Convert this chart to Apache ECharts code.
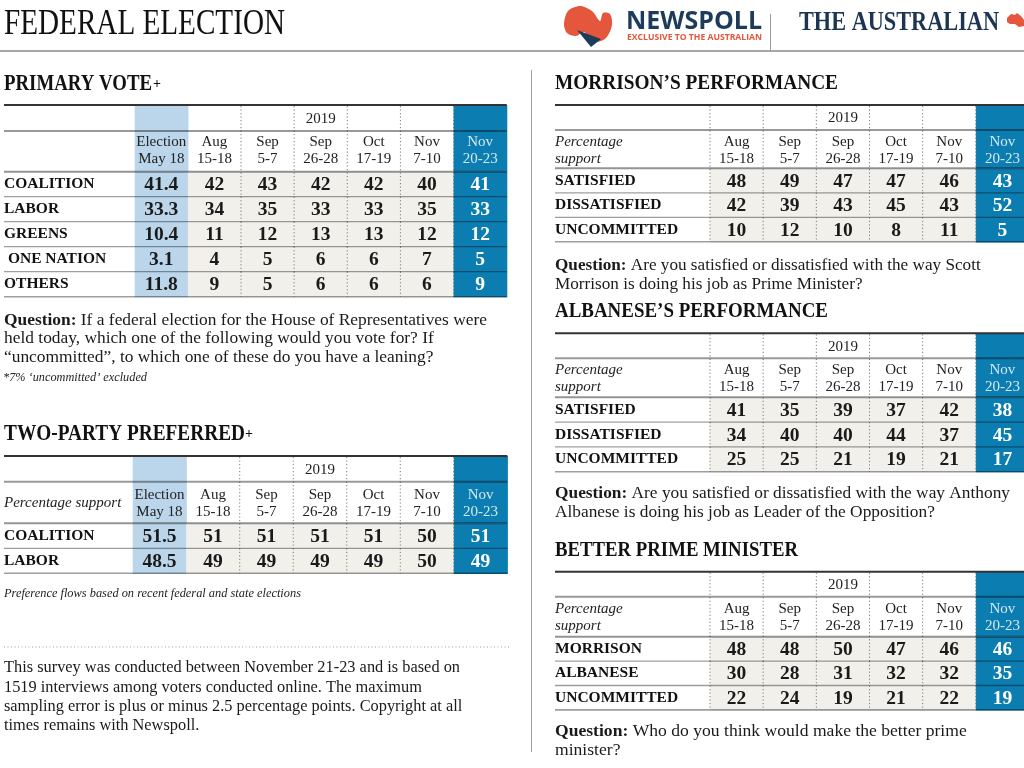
<!DOCTYPE html>
<html><head><meta charset="utf-8">
<script src="https://cdn.jsdelivr.net/npm/echarts@6/dist/echarts.min.js"></script>
<style>html,body{margin:0;padding:0;background:#fff}#c{width:1024px;height:768px}</style>
</head><body><div id="c"></div>
<script>
// ---------------- DATA ----------------
const yearLabel = '2019';
const primaryCols = ['Election\nMay 18','Aug\n15-18','Sep\n5-7','Sep\n26-28','Oct\n17-19','Nov\n7-10','Nov\n20-23'];
const primaryRows = ['COALITION','LABOR','GREENS',' ONE NATION','OTHERS'];
const primaryCoalition = [41.4, 42, 43, 42, 42, 40, 41];
const primaryLabor     = [33.3, 34, 35, 33, 33, 35, 33];
const primaryGreens    = [10.4, 11, 12, 13, 13, 12, 12];
const primaryOneNation = [3.1, 4, 5, 6, 6, 7, 5];
const primaryOthers    = [11.8, 9, 5, 6, 6, 6, 9];

const tppCols = ['Election\nMay 18','Aug\n15-18','Sep\n5-7','Sep\n26-28','Oct\n17-19','Nov\n7-10','Nov\n20-23'];
const tppRows = ['COALITION','LABOR'];
const tppCoalition = [51.5, 51, 51, 51, 51, 50, 51];
const tppLabor     = [48.5, 49, 49, 49, 49, 50, 49];

const pollCols = ['Aug\n15-18','Sep\n5-7','Sep\n26-28','Oct\n17-19','Nov\n7-10','Nov\n20-23'];
const perfRows = ['SATISFIED','DISSATISFIED','UNCOMMITTED'];
const morrisonSatisfied    = [48, 49, 47, 47, 46, 43];
const morrisonDissatisfied = [42, 39, 43, 45, 43, 52];
const morrisonUncommitted  = [10, 12, 10, 8, 11, 5];
const albaneseSatisfied    = [41, 35, 39, 37, 42, 38];
const albaneseDissatisfied = [34, 40, 40, 44, 37, 45];
const albaneseUncommitted  = [25, 25, 21, 19, 21, 17];
const bpmRows = ['MORRISON','ALBANESE','UNCOMMITTED'];
const bpmMorrison    = [48, 48, 50, 47, 46, 46];
const bpmAlbanese    = [30, 28, 31, 32, 32, 35];
const bpmUncommitted = [22, 24, 19, 21, 22, 19];

// ---------------- STYLE ----------------
const SERIF = '"Liberation Serif", "Times New Roman", serif';
const VALFONT = 'bold 19.5px "Liberation Serif", serif';
const TEAL = '#0b7db1', ELEC = '#bbd6ea', BEIGE = '#f2f0eb', INK = '#1a1a1a';

const tables = [
  { cols: primaryCols, rows: primaryRows, values: [primaryCoalition, primaryLabor, primaryGreens, primaryOneNation, primaryOthers], corner: '',
    L: { tableLeft: 4, gridLeft: 134.7, gridW: 372, gridTop: 171.7, rowH: 25, headerH: 40.7, yearH: 26, xMargin: 4, yearIdx: 3, elecIdx: 0, dotFrom: 2 } },
  { cols: tppCols, rows: tppRows, values: [tppCoalition, tppLabor], corner: 'Percentage support',
    L: { tableLeft: 4, gridLeft: 132.7, gridW: 374.6, gridTop: 523.3, rowH: 25, headerH: 41.6, yearH: 25.7, xMargin: 3, yearIdx: 3, elecIdx: 0, dotFrom: 2 } },
  { cols: pollCols, rows: perfRows, values: [morrisonSatisfied, morrisonDissatisfied, morrisonUncommitted], corner: 'Percentage\nsupport',
    L: { tableLeft: 555, gridLeft: 710, gridW: 319, gridTop: 168.3, rowH: 24.5, headerH: 38.3, yearH: 25, xMargin: 1, yearIdx: 2, elecIdx: -1, dotFrom: 0 } },
  { cols: pollCols, rows: perfRows, values: [albaneseSatisfied, albaneseDissatisfied, albaneseUncommitted], corner: 'Percentage\nsupport',
    L: { tableLeft: 555, gridLeft: 710, gridW: 319, gridTop: 397.3, rowH: 24.8, headerH: 39, yearH: 25, xMargin: 1.5, yearIdx: 2, elecIdx: -1, dotFrom: 0 } },
  { cols: pollCols, rows: bpmRows, values: [bpmMorrison, bpmAlbanese, bpmUncommitted], corner: 'Percentage\nsupport',
    L: { tableLeft: 555, gridLeft: 710, gridW: 319, gridTop: 636.7, rowH: 24.4, headerH: 40, yearH: 25, xMargin: 2, yearIdx: 2, elecIdx: -1, dotFrom: 0 } }
];

function makeRender(t) {
  const L = t.L, n = t.cols.length;
  return function (params, api) {
    const c = api.value(0), r = api.value(1), v = api.value(2);
    const p = api.coord([c, r]);
    const sz = api.size([1, 1]);
    const w = sz[0], h = sz[1];
    const x0 = p[0] - w / 2, y0 = p[1] - h / 2;
    const isTeal = c === n - 1, isElec = c === L.elecIdx;
    const fill = isTeal ? TEAL : (isElec ? ELEC : BEIGE);
    const gTop = L.gridTop, tTop = gTop - L.headerH - L.yearH;
    const right = L.gridLeft + L.gridW;
    const ch = [];
    ch.push({ type: 'rect', shape: { x: x0, y: y0, width: w + 0.6, height: h + 0.6 }, style: { fill }, z2: 0 });
    ch.push({ type: 'text', style: { text: String(v), x: p[0], y: p[1] + 1, align: 'center', verticalAlign: 'middle', fill: isTeal ? '#ffffff' : INK, font: VALFONT }, z2: 10 });
    if (r === 0) {
      if (isTeal || isElec) ch.push({ type: 'rect', shape: { x: x0, y: tTop, width: w + 0.6, height: gTop - tTop }, style: { fill }, z2: 0 });
      if (c === L.yearIdx) ch.push({ type: 'text', style: { text: yearLabel, x: p[0], y: tTop + L.yearH / 2 + 1, align: 'center', verticalAlign: 'middle', fill: '#222', font: '15px ' + SERIF }, z2: 10 });
    }
    if (c >= L.dotFrom) {
      ch.push({ type: 'line', shape: { x1: x0, y1: r === 0 ? tTop + 1 : y0, x2: x0, y2: y0 + h }, style: { stroke: '#7a7a7a', lineWidth: 1, lineDash: [1.2, 2.3] }, z2: 5 });
    }
    if (c === 0) {
      ch.push({ type: 'line', shape: { x1: L.tableLeft, y1: y0 + h, x2: right, y2: y0 + h }, style: { stroke: 'rgba(0,0,0,0.38)', lineWidth: r === t.rows.length - 1 ? 1.6 : 1.3 }, z2: 6 });
      if (r === 0) {
        ch.push({ type: 'line', shape: { x1: L.tableLeft, y1: tTop, x2: right, y2: tTop }, style: { stroke: '#333', lineWidth: 2 }, z2: 6 });
        ch.push({ type: 'line', shape: { x1: L.tableLeft, y1: tTop + L.yearH, x2: right, y2: tTop + L.yearH }, style: { stroke: 'rgba(0,0,0,0.4)', lineWidth: 2 }, z2: 6 });
        ch.push({ type: 'line', shape: { x1: L.tableLeft, y1: gTop, x2: right, y2: gTop }, style: { stroke: 'rgba(0,0,0,0.42)', lineWidth: 2 }, z2: 6 });
        if (t.corner) ch.push({ type: 'text', style: { text: t.corner, x: L.tableLeft, y: gTop - L.xMargin - 17, align: 'left', verticalAlign: 'middle', lineHeight: 17, fill: '#222', font: 'italic 15px ' + SERIF }, z2: 10 });
      }
    }
    return { type: 'group', children: ch };
  };
}

const grid = [], xAxis = [], yAxis = [], series = [];
tables.forEach((t, i) => {
  const L = t.L, n = t.cols.length;
  grid.push({ left: L.gridLeft, top: L.gridTop, width: L.gridW, height: L.rowH * t.rows.length, containLabel: false, outerBoundsMode: 'none' });
  xAxis.push({ gridIndex: i, type: 'category', data: t.cols, position: 'top', z: 10,
    axisLine: { show: false }, axisTick: { show: false }, splitLine: { show: false },
    axisLabel: { interval: 0, margin: L.xMargin, fontFamily: SERIF, fontSize: 15, lineHeight: 17,
      color: (val, idx) => idx === n - 1 ? '#d3e8f4' : '#222' } });
  yAxis.push({ gridIndex: i, type: 'category', data: t.rows, inverse: true, z: 10,
    axisLine: { show: false }, axisTick: { show: false }, splitLine: { show: false },
    axisLabel: { interval: 0, align: 'left', margin: L.gridLeft - L.tableLeft, fontFamily: SERIF, fontWeight: 'bold', fontSize: 15.5, color: '#111' } });
  const data = [];
  t.values.forEach((arr, r) => arr.forEach((v, c) => data.push([c, r, v])));
  series.push({ type: 'custom', xAxisIndex: i, yAxisIndex: i, data, renderItem: makeRender(t), clip: false, silent: true, z: 1 });
});

// ---------------- static text helpers ----------------
const ctx = document.createElement('canvas').getContext('2d');
function fstr(fs, b, it, fam) { return (it ? 'italic ' : '') + (b ? 'bold ' : '') + fs + 'px ' + (fam || SERIF); }
function measure(parts, fs, fam) { let w = 0; parts.forEach(p => { ctx.font = fstr(fs, p.b, p.i, fam); w += ctx.measureText(p.t).width; }); return w; }
function tline(x, baseline, parts, fs, color, scale, fam) {
  const rich = {}; let s = '';
  parts.forEach((p, k) => { rich['p' + k] = { font: fstr(fs, p.b, p.i, fam), fill: color }; s += '{p' + k + '|' + p.t + '}'; });
  return { type: 'text', x: x, y: baseline - 0.3375 * fs, scaleX: scale, silent: true, z: 20,
    style: { text: s, rich, align: 'left', verticalAlign: 'middle', fill: color, font: fstr(fs, false, false, fam) } };
}
function block(x, baseline, lh, lines, fs, color, targetW, fam) {
  const s = targetW / measure(lines[0], fs, fam);
  return lines.map((ln, k) => tline(x, baseline + k * lh, ln, fs, color, s, fam));
}
function single(x, baseline, txt, fs, b, it, color, targetW, fam) {
  const parts = [{ t: txt, b, i: it }];
  return tline(x, baseline, parts, fs, color, targetW / measure(parts, fs, fam), fam);
}

const g = [];
// header
g.push(single(4, 37, 'FEDERAL ELECTION', 35, false, false, '#111', 281));
g.push({ type: 'line', z: 20, shape: { x1: 0, y1: 51, x2: 1024, y2: 51 }, style: { stroke: '#8a8a8a', lineWidth: 1.5 } });
g.push({ type: 'line', z: 20, shape: { x1: 770.5, y1: 14, x2: 770.5, y2: 51 }, style: { stroke: '#9a9a9a', lineWidth: 1 } });
// newspoll mark
g.push({ type: 'polygon', z: 20, shape: { smooth: 0.3, points: [[564, 24], [568, 11], [580, 6], [592, 11], [600, 21], [603, 13], [610, 14], [612, 25], [606, 38], [595, 42], [584, 32], [576, 36], [567, 33]] }, style: { fill: '#e4573d' } });
g.push({ type: 'polygon', z: 21, shape: { points: [[577, 30], [601, 39], [591, 47]] }, style: { fill: '#1d3b5a' } });
g.push(single(626, 30.7, 'NEWSPOLL', 25, true, false, '#1d3b5a', 136, '"Open Sans", sans-serif'));
g.push(single(627, 40.5, 'EXCLUSIVE TO THE AUSTRALIAN', 8.5, true, false, '#e4573d', 135, '"Open Sans", sans-serif'));
g.push(single(799, 32, 'THE AUSTRALIAN', 28, true, false, '#1b3553', 200));
g.push({ type: 'polygon', z: 20, shape: { points: [[1007, 18], [1011, 14], [1015, 15], [1017, 13], [1021, 16], [1024, 20], [1024, 26], [1019, 27], [1015, 24], [1010, 24], [1007, 22]] }, style: { fill: '#e4573d' } });
// column divider
g.push({ type: 'line', z: 20, shape: { x1: 531.5, y1: 70, x2: 531.5, y2: 752 }, style: { stroke: '#a0a0a0', lineWidth: 1 } });
// section headings
g.push(single(4, 91.7, 'PRIMARY VOTE', 23, true, false, '#111', 148));
g.push(tline(153, 89, [{ t: '+', b: true }], 14, '#111', 1));
g.push(single(4, 441.7, 'TWO-PARTY PREFERRED', 23, true, false, '#111', 241));
g.push(tline(245, 439, [{ t: '+', b: true }], 14, '#111', 1));
g.push(single(555, 91, 'MORRISON\u2019S PERFORMANCE', 21, true, false, '#111', 283));
g.push(single(555, 319, 'ALBANESE\u2019S PERFORMANCE', 21, true, false, '#111', 273));
g.push(single(555, 557.5, 'BETTER PRIME MINISTER', 21, true, false, '#111', 243));
// questions
g.push(...block(4, 326, 18.5, [
  [{ t: 'Question:', b: true }, { t: ' If a federal election for the House of Representatives were' }],
  [{ t: 'held today, which one of the following would you vote for? If' }],
  [{ t: '\u201Cuncommitted\u201D, to which one of these do you have a leaning?' }]
], 17, '#1a1a1a', 483));
g.push(single(3, 382, '*7% \u2018uncommitted\u2019 excluded', 11.5, false, true, '#222', 144));
g.push(single(4, 597.5, 'Preference flows based on recent federal and state elections', 12.5, false, true, '#222', 297));
g.push({ type: 'line', z: 20, shape: { x1: 4, y1: 647, x2: 510, y2: 647 }, style: { stroke: '#9a9a9a', lineWidth: 1, lineDash: [1, 2.5] } });
g.push(...block(4, 673.5, 19.3, [
  [{ t: 'This survey was conducted between November 21-23 and is based on' }],
  [{ t: '1519 interviews among voters conducted online. The maximum' }],
  [{ t: 'sampling error is plus or minus 2.5 percentage points. Copyright at all' }],
  [{ t: 'times remains with Newspoll.' }]
], 17, '#1a1a1a', 456));
g.push(...block(555, 271.5, 18.5, [
  [{ t: 'Question:', b: true }, { t: ' Are you satisfied or dissatisfied with the way Scott' }],
  [{ t: 'Morrison is doing his job as Prime Minister?' }]
], 17, '#1a1a1a', 425.7));
g.push(...block(555, 499.5, 18.8, [
  [{ t: 'Question:', b: true }, { t: ' Are you satisfied or dissatisfied with the way Anthony' }],
  [{ t: 'Albanese is doing his job as Leader of the Opposition?' }]
], 17, '#1a1a1a', 455));
g.push(...block(555, 737.3, 19.3, [
  [{ t: 'Question:', b: true }, { t: ' Who do you think would make the better prime' }],
  [{ t: 'minister?' }]
], 17, '#1a1a1a', 411.7));

const chart = echarts.init(document.getElementById('c'), null, { renderer: 'canvas' });
chart.setOption({ animation: false, backgroundColor: '#ffffff', grid, xAxis, yAxis, series, graphic: { elements: g } });
</script></body></html>
